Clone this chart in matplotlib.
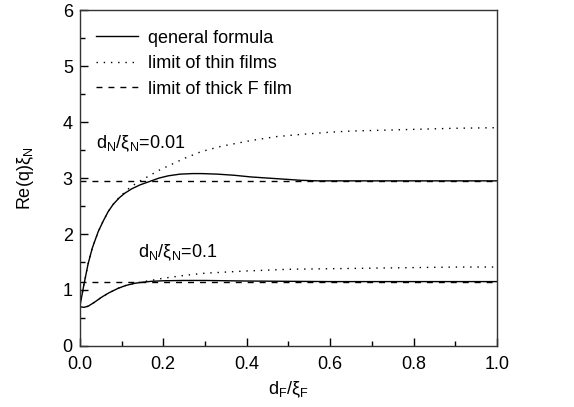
import matplotlib
matplotlib.use('Agg')
import matplotlib.pyplot as plt

plt.rcParams['font.family'] = ['Liberation Sans', 'DejaVu Sans']
plt.rcParams['mathtext.fontset'] = 'custom'
plt.rcParams['mathtext.rm'] = 'Liberation Sans'
plt.rcParams['mathtext.it'] = 'Liberation Sans:italic'
plt.rcParams['mathtext.default'] = 'regular'

# Werte aus dem Bild abgelesen
# d_N/xi_N = 0.01
x_gen1 = [0.0, 0.005, 0.01, 0.02, 0.03, 0.044, 0.056, 0.068, 0.08, 0.095, 0.108, 0.125, 0.145, 0.164,
          0.19, 0.212, 0.24, 0.27, 0.292, 0.33, 0.37, 0.41, 0.45, 0.49, 0.53, 0.57, 0.6, 0.7, 0.8, 0.9, 1.0]
y_gen1 = [0.70, 0.90, 1.10, 1.47, 1.75, 2.04, 2.23, 2.40, 2.53, 2.65, 2.73, 2.81, 2.88, 2.93,
          3.00, 3.04, 3.07, 3.08, 3.08, 3.07, 3.05, 3.02, 3.00, 2.98, 2.96, 2.95, 2.95, 2.95, 2.95, 2.95, 2.95]
x_thin1 = [0.0, 0.005, 0.01, 0.02, 0.03, 0.044, 0.056, 0.068, 0.08, 0.095, 0.108, 0.12, 0.14, 0.164,
           0.19, 0.21, 0.25, 0.29, 0.34, 0.41, 0.47, 0.53, 0.6, 0.65, 0.7, 0.8, 0.9, 1.0]
y_thin1 = [0.70, 0.90, 1.10, 1.47, 1.75, 2.04, 2.23, 2.40, 2.53, 2.66, 2.75, 2.83, 2.93, 3.03,
           3.14, 3.21, 3.35, 3.47, 3.57, 3.67, 3.74, 3.78, 3.82, 3.84, 3.85, 3.87, 3.89, 3.90]
y_thick1 = 2.95

# d_N/xi_N = 0.1
x_gen2 = [0.0, 0.01, 0.02, 0.035, 0.052, 0.07, 0.092, 0.11, 0.132, 0.152, 0.172, 0.2, 0.25, 0.3, 0.35,
          0.4, 0.5, 0.6, 0.7, 0.8, 0.9, 1.0]
y_gen2 = [0.70, 0.69, 0.71, 0.78, 0.87, 0.95, 1.03, 1.08, 1.12, 1.14, 1.155, 1.165, 1.17, 1.17, 1.165,
          1.16, 1.155, 1.15, 1.15, 1.15, 1.15, 1.15]
x_thin2 = [0.0, 0.01, 0.02, 0.035, 0.052, 0.07, 0.092, 0.11, 0.132, 0.152, 0.17, 0.2, 0.25, 0.3, 0.35,
           0.4, 0.5, 0.6, 0.7, 0.8, 0.9, 1.0]
y_thin2 = [0.70, 0.69, 0.71, 0.78, 0.87, 0.95, 1.03, 1.08, 1.12, 1.15, 1.17, 1.21, 1.26, 1.30, 1.32,
           1.34, 1.37, 1.38, 1.39, 1.40, 1.41, 1.41]
y_thick2 = 1.15

fig = plt.figure(figsize=(5.74, 4.07), dpi=100)
ax = fig.add_axes([0.139, 0.150, 0.727, 0.825])

lw = 1.0
dotted = (0, (1, 4.2))
dashed = (0, (4.3, 4.3))
ax.plot(x_gen1, y_gen1, color='black', lw=lw, label='qeneral formula')
ax.plot(x_thin1, y_thin1, color='black', lw=lw, ls=dotted, label='limit of thin films')
ax.axhline(y_thick1, color='black', lw=lw, ls=dashed, label='limit of thick F film')
ax.plot(x_gen2, y_gen2, color='black', lw=lw)
ax.plot(x_thin2, y_thin2, color='black', lw=lw, ls=dotted)
ax.axhline(y_thick2, color='black', lw=lw, ls=dashed)

ax.set_xlim(0, 1.0)
ax.set_ylim(0, 6)
ax.set_xticks([0.0, 0.2, 0.4, 0.6, 0.8, 1.0])
ax.set_xticks([0.1, 0.3, 0.5, 0.7, 0.9], minor=True)
ax.set_yticks([0, 1, 2, 3, 4, 5, 6])
ax.set_yticks([0.5, 1.5, 2.5, 3.5, 4.5, 5.5], minor=True)
ax.set_xticklabels(['0.0', '0.2', '0.4', '0.6', '0.8', '1.0'])
ax.tick_params(which='both', direction='in', labelsize=13, width=1, colors='black')
ax.tick_params(axis='x', pad=7)
ax.tick_params(axis='y', pad=5)
ax.tick_params(which='major', length=6)
ax.tick_params(which='minor', length=3.5)
for s in ax.spines.values():
    s.set_linewidth(1.0)
    s.set_color('#333333')

ax.set_xlabel('d$_F$/ξ$_F$', fontsize=13, labelpad=5)
ax.set_ylabel('Re(q)ξ$_N$', fontsize=13, labelpad=19)

ax.text(0.04, 3.54, 'd$_N$/ξ$_N$=0.01', fontsize=13)
ax.text(0.14, 1.58, 'd$_N$/ξ$_N$=0.1', fontsize=13)

ax.legend(loc='upper left', bbox_to_anchor=(0.0, 0.99), frameon=False, fontsize=13,
          handlelength=2.3, handletextpad=0.6, labelspacing=0.47, borderaxespad=0.5)

fig.savefig('out.png', dpi=100)
